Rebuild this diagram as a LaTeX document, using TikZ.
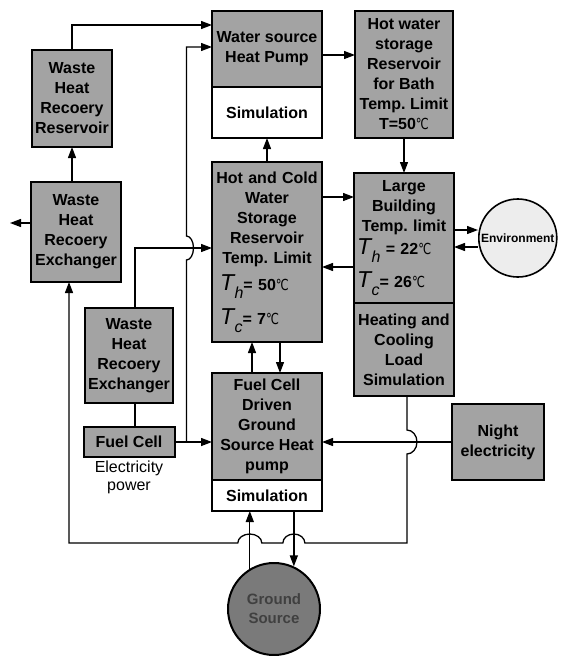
\documentclass[tikz,border=0pt]{standalone}
\usepackage{fontspec}
\usepackage{graphicx}
\setmainfont{Liberation Sans}
\newfontfamily\dejavu{DejaVu Sans}
\usetikzlibrary{arrows.meta,positioning,calc}

\newcommand{\degc}{\scalebox{0.72}[0.95]{\dejavu\mdseries ℃}}
\newcommand{\tval}[2]{{\mdseries\itshape\fontsize{23}{23}\selectfont T\kern0.5pt\raisebox{-8pt}{\fontsize{16}{16}\selectfont #1}}#2}
\frenchspacing

\begin{document}
\begin{tikzpicture}[x=1pt, y=-1pt,
  font=\fontsize{16}{20}\selectfont\bfseries,
  box/.style={draw, line width=2pt, fill=black!36, align=center, inner sep=0pt, outer sep=0pt},
  simbox/.style={box, fill=white},
  arr/.style={-{Triangle[length=11pt,width=8pt]}, line width=1.3pt},
  link/.style={line width=1.3pt}
]
\useasboundingbox (0,0) rectangle (581,656);

% heat pump column
\node[box, minimum width=110pt, minimum height=76pt] (wsp) at (267,49) {Water source\\Heat Pump};
\node[simbox, minimum width=110pt, minimum height=51pt, below=0pt of wsp] (wsim) {Simulation};
\node[box, minimum width=110pt, minimum height=180pt, text width=104pt, below=24pt of wsim] (hcs)
  {Hot and Cold\\Water\\Storage\\Reservoir\\Temp. Limit\\[7pt]
   \makebox[\linewidth][l]{\hspace*{5pt}\tval{h}{= 50\degc}}\\[9pt]
   \makebox[\linewidth][l]{\hspace*{5pt}\tval{c}{= 7\degc}}};
\node[box, minimum width=110pt, minimum height=107pt, below=31pt of hcs] (gshp) {Fuel Cell\\Driven\\Ground\\Source Heat\\pump};
\node[simbox, minimum width=110pt, minimum height=31pt, below=0pt of gshp] (gsim) {Simulation};
\node[circle, draw, line width=2pt, fill=black!52, minimum size=92pt, inner sep=0pt, align=center,
  below=51pt of gsim, xshift=7pt, text=black!75, font=\fontsize{15}{19}\selectfont\bfseries] (gnd) {Ground\\Source};

% building column
\node[box, minimum width=98pt, minimum height=127pt, right=33pt of wsp.north east, anchor=north west] (hws)
  {Hot water\\storage\\Reservoir\\for Bath\\Temp. Limit\\T=50\degc};
\node[box, minimum width=100pt, minimum height=130pt, text width=96pt, below=35pt of hws] (lb)
  {Large\\Building\\Temp. limit\\[3pt]
   \makebox[\linewidth][l]{\hspace*{1pt}\tval{h}{ = 22\degc}}\\[8pt]
   \makebox[\linewidth][l]{\hspace*{1pt}\tval{c}{= 26\degc}}};
\node[box, minimum width=100pt, minimum height=93pt, below=0pt of lb] (hcl) {Heating and\\Cooling\\Load\\Simulation};
\node[circle, draw, line width=1.6pt, fill=black!7, minimum size=78pt, inner sep=0pt,
  right=24pt of lb, font=\fontsize{12}{15}\selectfont\bfseries] (env) {Environment};
\node[box, minimum width=92pt, minimum height=76pt] (night) at (498,442) {Night\\electricity};

% waste heat column
\node[box, minimum width=90pt, minimum height=100pt] (wexu) at (76,232) {Waste\\Heat\\Recoery\\Exchanger};
\node[box, minimum width=80pt, minimum height=97pt, above=35pt of wexu, xshift=-4pt] (wres) {Waste\\Heat\\Recoery\\Reservoir};
\node[box, minimum width=88pt, minimum height=95pt] (wexl) at (129,355.5) {Waste\\Heat\\Recoery\\Exchanger};
\node[box, minimum width=91pt, minimum height=30pt, below=24pt of wexl] (fc) {Fuel Cell};
\node[below=4pt of fc, inner sep=0pt, align=center, font=\fontsize{16}{18}\selectfont\mdseries] (elec) {Electricity\\power};

% helper points
\coordinate (topin) at ([yshift=-14pt]wsp.north west);
\coordinate (win) at ([yshift=2pt]wsp.west);
\coordinate (bath) at ([yshift=-6pt]wsp.east);
\coordinate (hin) at ([yshift=4pt]hcs.west);
\coordinate (supply) at ([yshift=55pt]hcs.east);
\coordinate (ret) at ([yshift=-29pt]lb.west);
\coordinate (envout) at ([yshift=8pt]lb.east);
\coordinate (envin) at ([yshift=-9pt]lb.east);
\coordinate (jn) at ([xshift=12pt]fc.east);
\coordinate (hop1) at (jn |- hin);
\coordinate (hcout) at ([xshift=3pt]hcl.south);
\coordinate (hop2) at (hcout |- night.west);
\coordinate (lowy) at ([yshift=-32pt]gsim.south);
\coordinate (hop3) at (gnd.65 |- lowy);
\coordinate (hop4) at (gnd.121 |- lowy);
\coordinate (wxin) at ([xshift=-7pt]wexu.south);
\coordinate (exh) at ([yshift=9pt, xshift=-21pt]wexu.west);

% connectors
\draw[arr] (wres.south |- wexu.north) -- (wres.south);
\draw[arr] (wres.north) |- (topin);
\draw[arr] ([yshift=9pt]wexu.west) -- (exh);
\draw[arr] (bath) -- (bath -| hws.west);
\draw[arr] (hws.south) -- (lb.north);
\draw[arr] (hcs.north) -- (wsim.south);
\draw[arr] (supply) -- (supply -| lb.west);
\draw[arr] (ret) -- (ret -| hcs.east);
\draw[arr] (envout) -- (envout -| env.west);
\draw[arr] (envin -| env.west) -- (envin);
\draw[arr] ([xshift=-15pt]gshp.north) -- ([xshift=-15pt]hcs.south);
\draw[arr] ([xshift=13pt]hcs.south) -- ([xshift=13pt]gshp.north);
\draw[link] ([xshift=6pt]wexl.south) -- ([xshift=6pt]fc.north);
\draw[arr] ([xshift=6pt]wexl.north) |- (hin);
\draw[arr] (fc.east) -- (fc.east -| gshp.west);
\draw[arr] (jn) -- ([yshift=-12pt]hop1) arc[start angle=-90, end angle=90, x radius=7pt, y radius=12pt]
  -- (hop1 |- win) -- (win);
\draw[arr] (night.west) -- (night.west -| gshp.east);
\draw[arr] (gnd.121) -- (gnd.121 |- gsim.south);
\draw[arr] (gnd.65 |- gsim.south) -- (gnd.65);
\draw[arr] (hcout) -- ([yshift=12pt]hop2) arc[start angle=90, end angle=-90, x radius=10pt, y radius=12pt]
  -- (hcout |- lowy) -- ([xshift=11pt]hop3) arc[start angle=0, end angle=180, x radius=11pt, y radius=9pt]
  -- ([xshift=12pt]hop4) arc[start angle=0, end angle=180, x radius=12pt, y radius=9pt]
  -- (wxin |- lowy) -- (wxin);
\end{tikzpicture}
\end{document}
